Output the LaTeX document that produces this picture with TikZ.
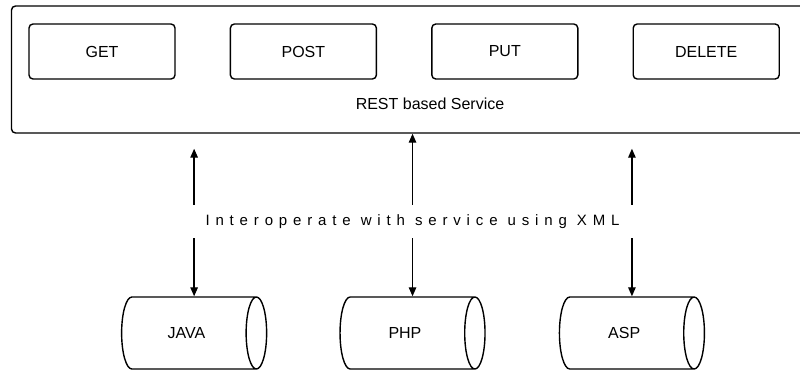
\documentclass[tikz,border=0pt]{standalone}
\usepackage{fontspec}
\setmainfont{Liberation Sans}
\usetikzlibrary{shapes,arrows.meta,positioning,calc}

\begin{document}
\begin{tikzpicture}[x=1pt,y=-1pt,node distance=54pt,
service/.style={
% The shape:
rectangle,rounded corners=4pt,
% The size:
minimum width=800pt,minimum height=127pt,
% The border:
line width=1.4pt,draw=black},
method/.style={
% The shape:
rectangle,rounded corners=4pt,
% The size:
minimum width=146pt,minimum height=55pt,
% The border:
line width=1.4pt,draw=black,
% Font
font=\fontsize{16}{19}\selectfont
},
client/.style={
% The shape:
cylinder,aspect=1.15,
% The size (height runs along the axis):
minimum width=72pt,minimum height=145pt,
% The border:
line width=1.4pt,draw=black,
font=\fontsize{16}{19}\selectfont},
link/.style={line width=1.4pt,-{Triangle[length=9pt,width=7.5pt]}}]

\useasboundingbox (0,0) rectangle (800,370);

\node (svc) [service] at (411.5,69.5) {};
\node (get) [method] at (102,51.5) {GET};
\node (post) [method, right=of get] {POST};
\node (put) [method, right=of post] {PUT};
\node (delete) [method, right=of put] {DELETE};
\node (rest) [font=\fontsize{16}{19}\selectfont] at (430,104) {REST based Service};

\node (java) [client] at (186.5,333) {JAVA};
\node (php) [client, right=72pt of java] {PHP};
\node (asp) [client, right=73pt of php] {ASP};

\node (xml) [minimum height=33pt,inner sep=0pt,
  font=\fontsize{15}{18}\selectfont\addfontfeature{LetterSpace=39}]
  at (412.5,221.5) {Interoperate with service using XML};

\coordinate (javaup) at ($(java.shape center |- svc.south)+(0,15)$);
\coordinate (aspup) at ($(asp.shape center |- svc.south)+(0,15)$);

\draw [link] (xml.north -| java.shape center) -- (javaup);
\draw [link] (xml.south -| java.shape center) -- (java.shape center |- java.north);
\draw [link] (xml.north -| php.shape center) -- (php.shape center |- svc.south);
\draw [link] (xml.south -| php.shape center) -- (php.shape center |- php.north);
\draw [link] (xml.north -| asp.shape center) -- (aspup);
\draw [link] (xml.south -| asp.shape center) -- (asp.shape center |- asp.north);
\end{tikzpicture}
\end{document}
